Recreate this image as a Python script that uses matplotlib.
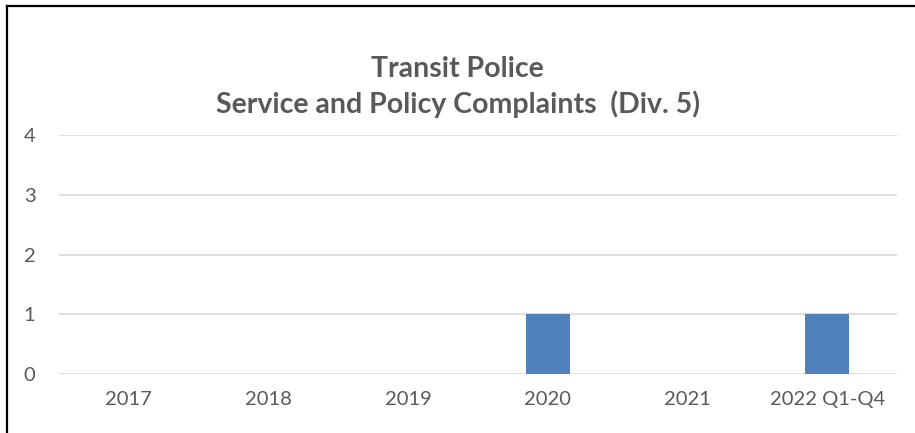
import matplotlib.pyplot as plt
from matplotlib.lines import Line2D

categories = ["2017", "2018", "2019", "2020", "2021", "2022 Q1-Q4"]
complaints = [0, 0, 0, 1, 0, 1]
yticks = [0, 1, 2, 3, 4]

plt.rcParams['font.family'] = ['Lato', 'DejaVu Sans']

W, H = 915, 433
fig = plt.figure(figsize=(W / 100, H / 100), dpi=100)
ax = fig.add_axes([59 / W, (H - 374) / H, (897 - 59) / W, (374 - 135) / H])

x = range(len(categories))
ax.bar(x, complaints, width=0.315, color="#4f81bd", zorder=3)
ax.set_xlim(-0.5, len(categories) - 0.5)
ax.set_ylim(0, 4)
ax.set_yticks(yticks)
ax.set_xticks(list(x))
ax.set_xticklabels(categories)
ax.grid(axis="y", color="#d9d9d9", linewidth=1.2, zorder=0)
for s in ax.spines.values():
    s.set_visible(False)
ax.tick_params(length=0, labelsize=14.5, labelcolor="#595959")
ax.tick_params(axis="x", pad=12)
ax.tick_params(axis="y", pad=17)

fig.text(0.5, 1 - 69 / H, "Transit Police", ha="center", va="center",
         fontsize=20.5, fontweight="bold", color="#595959")
fig.text(0.5, 1 - 104 / H, "Service and Policy Complaints  (Div. 5)", ha="center",
         va="center", fontsize=20.5, fontweight="bold", color="#595959")

# frame lines at top and left
fig.add_artist(Line2D([7 / W, 1], [1 - 6 / H] * 2, transform=fig.transFigure,
                      color="black", linewidth=1.6))
fig.add_artist(Line2D([7 / W] * 2, [1 - 6 / H, 0], transform=fig.transFigure,
                      color="black", linewidth=1.6))

fig.savefig("out.png", dpi=100)
